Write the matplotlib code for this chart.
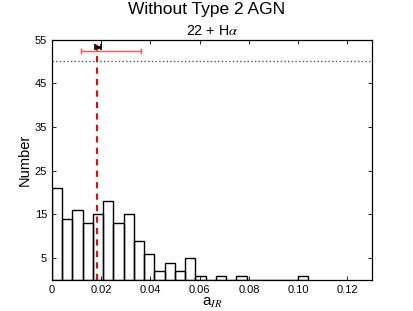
import numpy as np
import matplotlib
matplotlib.use('Agg')
import matplotlib.pyplot as plt

plt.rcParams['font.family'] = ['Liberation Sans', 'DejaVu Sans']
plt.rcParams['mathtext.fontset'] = 'stix'

# histogram of a_IR (25 equal bins)
bin_lo = 0.0
bin_hi = 0.104
counts = [21, 14, 16, 13, 15, 18, 13, 15, 9, 6, 2, 4, 2, 5, 1, 0, 1, 0, 1, 0, 0, 0, 0, 0, 1]

# markers at the top
median_x = 0.0182
red_y = 52.4
red_lo, red_hi = 0.0118, 0.0363
black_x = 0.0188
black_y = 53.2
black_err = 0.0012
ref_level = 50

xticks = [0, 0.02, 0.04, 0.06, 0.08, 0.10, 0.12]
xtick_labels = ['0', '0.02', '0.04', '0.06', '0.08', '0.10', '0.12']
yticks = [5, 15, 25, 35, 45, 55]

edges = np.linspace(bin_lo, bin_hi, len(counts) + 1)

fig = plt.figure(figsize=(4.14, 3.11), dpi=100)
ax = fig.add_axes([0.1256, 0.0997, 0.773, 0.773])

ax.bar(edges[:-1], counts, width=np.diff(edges), align='edge',
       fill=False, edgecolor='black', linewidth=1.0)

ax.axvline(median_x, color='red', linestyle=(0, (3, 2.5)), linewidth=1.5)
ax.axhline(ref_level, color='#555555', linestyle=':', linewidth=1.0)

ax.errorbar([median_x], [red_y], xerr=[[median_x - red_lo], [red_hi - median_x]],
            color='#ff5555', linewidth=1.0, capsize=2.5, capthick=1.0, fmt='none')
ax.errorbar([black_x], [black_y], xerr=[black_err], color='black',
            linewidth=2.0, capsize=2.0, capthick=1.2, fmt='none')

ax.set_xlim(0, 0.13)
ax.set_ylim(0, 55)
ax.set_xticks(xticks)
ax.set_xticklabels(xtick_labels)
ax.set_yticks(yticks)
ax.tick_params(direction='in', top=True, right=True, labelsize=8, length=3, width=0.6)
for s in ax.spines.values():
    s.set_linewidth(0.9)

ax.set_xlabel(r'a$_{IR}$', fontsize=11, labelpad=1)
ax.set_ylabel('Number', fontsize=10.5, labelpad=2)
ax.set_title(r'22 + H$\alpha$', fontsize=10.3, pad=3)
fig.suptitle('Without Type 2 AGN', fontsize=12.5, y=0.995)

fig.savefig('out.png', dpi=100)
